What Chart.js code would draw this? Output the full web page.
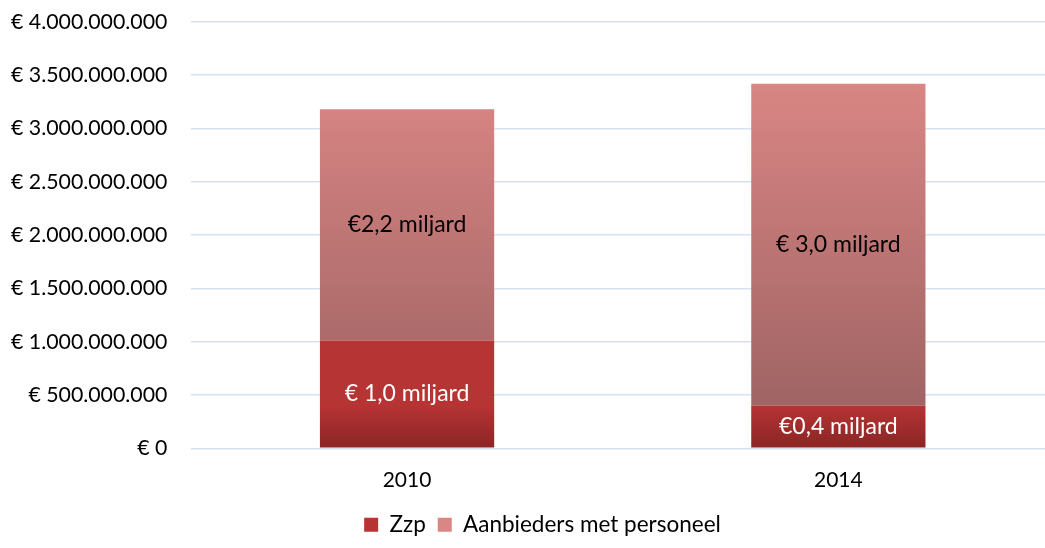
<!DOCTYPE html>
<html>
<head>
<meta charset="utf-8">
<script src="https://cdn.jsdelivr.net/npm/chart.js@4"></script>
<style>
  html, body { margin: 0; padding: 0; background: #fff; overflow: hidden; }
  #wrap { width: 1054px; height: 548px; }
</style>
</head>
<body>
<div id="wrap"><canvas id="costChart"></canvas></div>
<script>
// data
const years = ['2010', '2014'];
const zzp = [1010000000, 400000000];
const aanbieders = [2170000000, 3020000000];
const zzpLabels = ['€ 1,0 miljard', '€0,4 miljard'];
const aanbiedersLabels = ['€2,2 miljard', '€ 3,0 miljard'];
const yTicks = [0, 500000000, 1000000000, 1500000000, 2000000000, 2500000000, 3000000000, 3500000000, 4000000000];

const fontFamily = 'Lato, "Open Sans", sans-serif';

// colors per series: top / bottom of gradient
const zzpColors = ['#b63434', '#8b2525'];
const aanbColors = ['#d98684', '#a06464'];

function euro(v) {
    return '€ ' + v.toLocaleString('de-DE');
}

// legend sits a bit right of the canvas centre in the original
const shiftLegend = {
    id: 'shiftLegend',
    afterLayout(chart) {
        const legend = chart.legend;
        legend.left += 23;
        legend.right += 23;
        legend.adjustHitBoxes();
    }
};

// paint every bar segment (and legend box) with a vertical gradient
const gradientBars = {
    id: 'gradientBars',
    beforeDraw(chart) {
        const ctx = chart.ctx;
        const legend = chart.legend;
        if (legend && legend.legendItems && legend.legendHitBoxes) {
            legend.legendItems.forEach((item, i) => {
                const box = legend.legendHitBoxes[i];
                const cols = chart.data.datasets[item.datasetIndex].gradColors;
                const g = ctx.createLinearGradient(0, box.top, 0, box.top + box.height);
                g.addColorStop(0, cols[0]);
                g.addColorStop(1, cols[1]);
                item.fillStyle = g;
            });
        }
    },
    beforeDatasetsDraw(chart) {
        const ctx = chart.ctx;
        chart.data.datasets.forEach((ds, i) => {
            const meta = chart.getDatasetMeta(i);
            meta.data.forEach(el => {
                const g = ctx.createLinearGradient(0, el.y, 0, el.base);
                g.addColorStop(0, ds.gradColors[0]);
                g.addColorStop(1, ds.gradColors[1]);
                el.options.backgroundColor = g;
            });
        });
    }
};

// text inside each segment
const segmentLabels = {
    id: 'segmentLabels',
    afterDatasetsDraw(chart) {
        const ctx = chart.ctx;
        ctx.save();
        ctx.font = '23px ' + fontFamily;
        ctx.textAlign = 'center';
        ctx.textBaseline = 'middle';
        chart.data.datasets.forEach((ds, i) => {
            const meta = chart.getDatasetMeta(i);
            meta.data.forEach((el, j) => {
                ctx.fillStyle = ds.labelColor;
                ctx.fillText(ds.segLabels[j], el.x, (el.y + el.base) / 2);
            });
        });
        ctx.restore();
    }
};

const chartCtx = document.getElementById('costChart').getContext('2d');
const costChart = new Chart(chartCtx, {
    type: 'bar',
    data: {
        labels: years,
        datasets: [{
            label: 'Zzp',
            data: zzp,
            backgroundColor: '#a52d2d',
            gradColors: zzpColors,
            segLabels: zzpLabels,
            labelColor: '#ffffff'
        }, {
            label: 'Aanbieders met personeel',
            data: aanbieders,
            backgroundColor: '#c27776',
            gradColors: aanbColors,
            segLabels: aanbiedersLabels,
            labelColor: '#000000'
        }]
    },
    options: {
        responsive: true,
        maintainAspectRatio: false,
        animation: false,
        layout: { padding: { top: 0, left: -15, right: 0, bottom: 2 } },
        datasets: {
            bar: { categoryPercentage: 0.404, barPercentage: 1, borderWidth: 0 }
        },
        scales: {
            x: {
                stacked: true,
                grid: { display: false },
                border: { display: false },
                ticks: { color: '#000', font: { family: fontFamily, size: 21 }, padding: 11 },
                afterFit(axis) { axis.height -= 2; }
            },
            y: {
                stacked: true,
                min: 0,
                max: 4000000000,
                afterBuildTicks(axis) {
                    axis.ticks = yTicks.map(v => ({ value: v }));
                },
                afterFit(axis) { axis.width += 17; },
                grid: { color: '#d6e2f3', lineWidth: 1.5, drawTicks: true, tickLength: 15, tickColor: 'rgba(0,0,0,0)' },
                border: { display: false },
                ticks: {
                    color: '#000',
                    font: { family: fontFamily, size: 21.3 },
                    padding: 9,
                    callback: v => euro(v)
                }
            }
        },
        plugins: {
            legend: {
                position: 'bottom',
                labels: {
                    color: '#000',
                    font: { family: fontFamily, size: 22.5 },
                    boxWidth: 14,
                    boxHeight: 14,
                    padding: 12
                }
            },
            tooltip: { enabled: false }
        }
    },
    plugins: [shiftLegend, gradientBars, segmentLabels]
});
</script>
</body>
</html>
